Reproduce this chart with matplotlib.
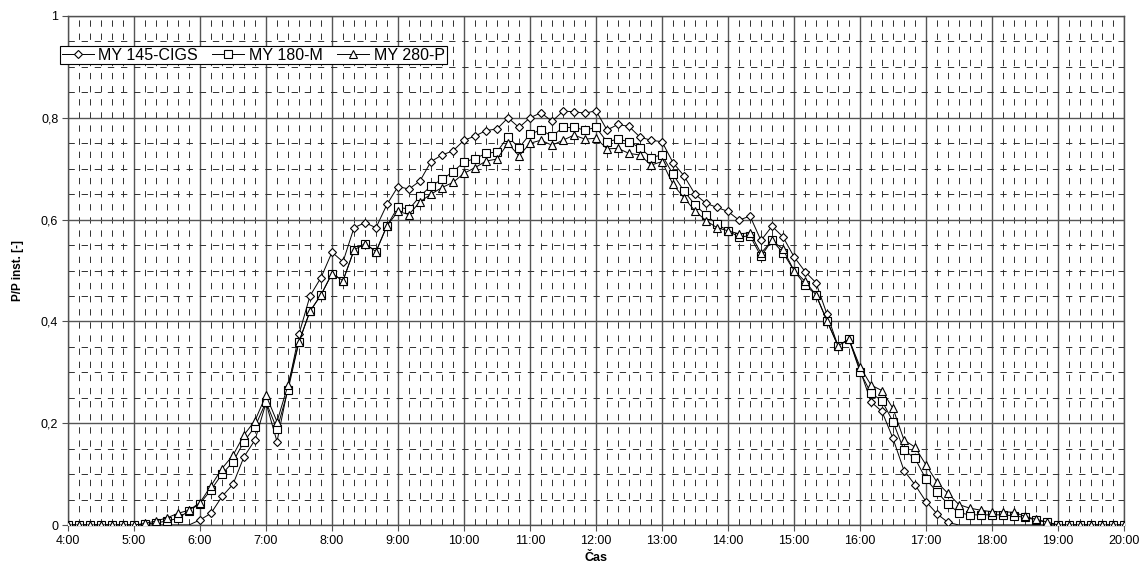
import numpy as np
import matplotlib
matplotlib.use("Agg")
import matplotlib.pyplot as plt
from matplotlib.lines import Line2D

plt.rcParams['font.family'] = ['Liberation Sans', 'DejaVu Sans']

# time axis: every 10 minutes from 4:00 to 20:00 (minutes since midnight)
time_min = list(range(240, 1201, 10))
hour_ticks = list(range(240, 1201, 60))
hour_labels = ["4:00", "5:00", "6:00", "7:00", "8:00", "9:00", "10:00", "11:00", "12:00",
               "13:00", "14:00", "15:00", "16:00", "17:00", "18:00", "19:00", "20:00"]
y_ticks = [0, 0.2, 0.4, 0.6, 0.8, 1.0]
y_labels = ["0", "0,2", "0,4", "0,6", "0,8", "1"]

series_names = ["MY 145-CIGS", "MY 180-M", "MY 280-P"]

cigs = [0, 0, 0, 0, 0, 0, 0, 0, 0, 0, 0, 0,
        0.010, 0.023, 0.056, 0.080, 0.134, 0.167, 0.240, 0.164, 0.270, 0.375, 0.450, 0.486,
        0.536, 0.517, 0.584, 0.594, 0.584, 0.630, 0.665, 0.660, 0.676, 0.714, 0.727, 0.735,
        0.756, 0.764, 0.775, 0.778, 0.800, 0.781, 0.800, 0.810, 0.793, 0.813, 0.812, 0.809,
        0.814, 0.776, 0.787, 0.783, 0.762, 0.756, 0.753, 0.712, 0.686, 0.650, 0.632, 0.624,
        0.616, 0.599, 0.607, 0.559, 0.587, 0.566, 0.527, 0.498, 0.476, 0.414, 0.352, 0.365,
        0.305, 0.242, 0.223, 0.170, 0.107, 0.079, 0.046, 0.022, 0.005,
        0, 0, 0, 0, 0, 0, 0, 0, 0, 0, 0, 0, 0, 0, 0, 0]

mono = [0, 0, 0, 0, 0, 0, 0, 0.002, 0.004, 0.008, 0.013, 0.028,
        0.042, 0.069, 0.100, 0.124, 0.164, 0.193, 0.242, 0.188, 0.265, 0.360, 0.420, 0.452,
        0.494, 0.480, 0.540, 0.553, 0.537, 0.588, 0.625, 0.620, 0.646, 0.666, 0.679, 0.694,
        0.713, 0.720, 0.730, 0.733, 0.763, 0.741, 0.768, 0.776, 0.764, 0.781, 0.781, 0.776,
        0.781, 0.753, 0.758, 0.753, 0.741, 0.722, 0.727, 0.689, 0.656, 0.629, 0.609, 0.591,
        0.578, 0.566, 0.568, 0.528, 0.559, 0.535, 0.500, 0.472, 0.452, 0.401, 0.352, 0.365,
        0.301, 0.259, 0.244, 0.203, 0.147, 0.131, 0.090, 0.065, 0.041, 0.024, 0.020, 0.020,
        0.020, 0.020, 0.018, 0.015, 0.010, 0.005, 0, 0, 0, 0, 0, 0, 0]

poly = [0, 0, 0, 0, 0, 0, 0, 0.003, 0.008, 0.014, 0.023, 0.029,
        0.044, 0.077, 0.111, 0.137, 0.177, 0.205, 0.255, 0.203, 0.275, 0.360, 0.420, 0.452,
        0.494, 0.480, 0.540, 0.553, 0.537, 0.588, 0.616, 0.610, 0.635, 0.650, 0.663, 0.673,
        0.691, 0.702, 0.715, 0.719, 0.750, 0.725, 0.750, 0.756, 0.746, 0.756, 0.766, 0.758,
        0.760, 0.739, 0.740, 0.730, 0.727, 0.707, 0.714, 0.669, 0.643, 0.617, 0.598, 0.584,
        0.578, 0.572, 0.574, 0.534, 0.559, 0.542, 0.500, 0.479, 0.452, 0.401, 0.352, 0.365,
        0.311, 0.275, 0.264, 0.229, 0.167, 0.153, 0.118, 0.084, 0.062, 0.040, 0.033, 0.029,
        0.026, 0.026, 0.025, 0.017, 0.011, 0.006, 0, 0, 0, 0, 0, 0, 0]

fig = plt.figure(figsize=(11.46, 5.76), dpi=100)
ax = fig.add_axes([68 / 1146, 1 - 525 / 576, (1124 - 68) / 1146, (525 - 16) / 576])

ax.set_xlim(240, 1200)
ax.set_ylim(0, 1)

# grid
ax.set_xticks(hour_ticks)
ax.set_xticklabels(hour_labels)
ax.set_xticks(list(range(240, 1201, 10)), minor=True)
ax.set_yticks(y_ticks)
ax.set_yticklabels(y_labels)
ax.set_yticks([v / 100 for v in range(0, 101, 5)], minor=True)
ax.grid(which='major', color='#555555', linewidth=1.0, linestyle='-')
ax.grid(which='minor', color='#303030', linewidth=0.7, linestyle=(0, (6.5, 7.0)))
ax.set_axisbelow(True)

ax.tick_params(axis='both', which='major', direction='out', length=4, width=0.8,
               color='#505050', labelsize=9, pad=3)
ax.tick_params(axis='both', which='minor', length=0)
for sp in ax.spines.values():
    sp.set_color('#505050')
    sp.set_linewidth(1.0)

mk = dict(markerfacecolor='white', markeredgecolor='black', markeredgewidth=0.8)
styles = [('D', 4.3), ('s', 5.2), ('^', 6.0)]

cigs_marks = [i for i, v in enumerate(cigs) if v > 0]
ax.plot(time_min, cigs, color='black', linewidth=0.7, marker=styles[0][0],
        markersize=styles[0][1], markevery=cigs_marks, zorder=3, **mk)
ax.plot(time_min, mono, color='black', linewidth=0.7, marker=styles[1][0],
        markersize=styles[1][1], zorder=4, **mk)
ax.plot(time_min, poly, color='black', linewidth=0.7, marker=styles[2][0],
        markersize=styles[2][1], zorder=5, **mk)

ax.set_xlabel("Čas", fontsize=9, fontweight='bold', labelpad=4)
ax.set_ylabel("P/P inst. [-]", fontsize=8.5, fontweight='bold', labelpad=12)

handles = [Line2D([0], [0], color='black', linewidth=0.7, marker=m, markersize=s, **mk)
           for m, s in styles]
leg = fig.legend(handles, series_names, loc='upper left',
                 bbox_to_anchor=(60 / 1146, 1 - 46 / 576), ncol=3, numpoints=1,
                 fontsize=11.5, frameon=True, fancybox=False, borderaxespad=0,
                 handlelength=2.0, handletextpad=0.3, columnspacing=0.9,
                 borderpad=0.1, framealpha=1)
leg.get_frame().set_edgecolor('black')
leg.get_frame().set_linewidth(0.8)

fig.savefig("out.png", dpi=100)
